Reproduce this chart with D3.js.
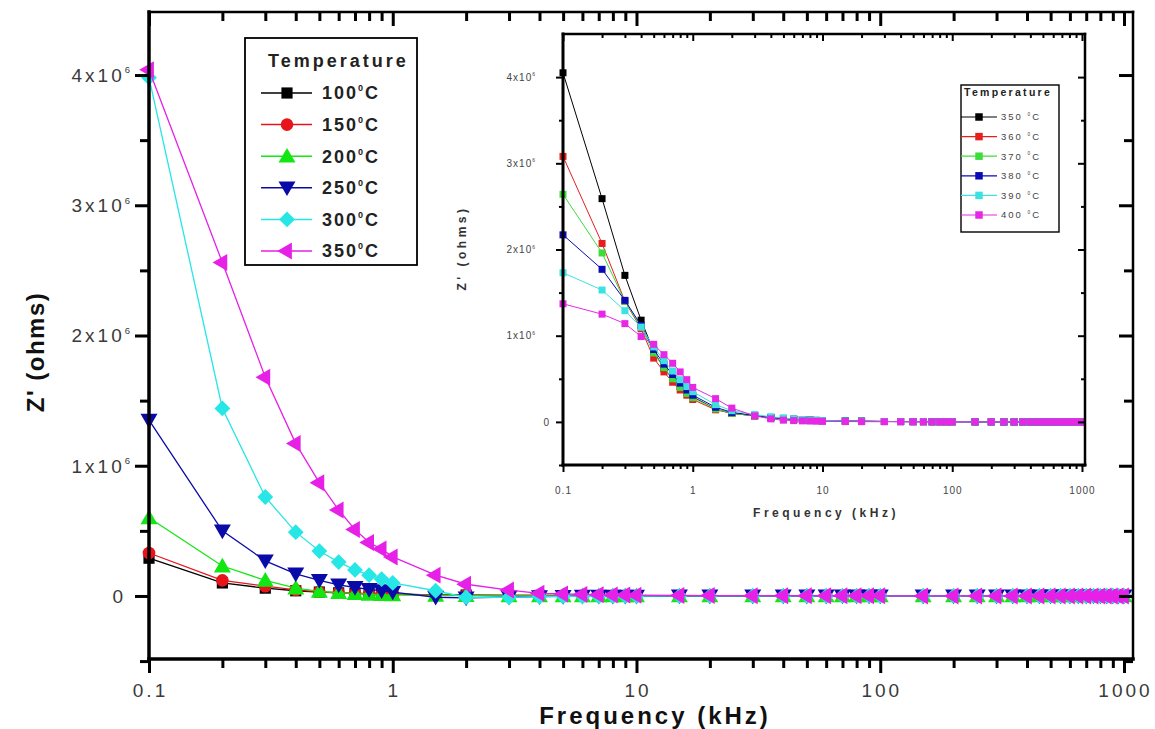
<!DOCTYPE html>
<html>
<head>
<meta charset="utf-8">
<script src="https://cdn.jsdelivr.net/npm/d3@7"></script>
<style>
  body { margin: 0; background: #fff; }
  svg { display: block; }
  text { font-family: "Liberation Sans", Arial, sans-serif; }
</style>
</head>
<body>
<svg id="chart" width="1155" height="729"></svg>
<script>
// ---- data -------------------------------------------------------------
// measurement frequencies (kHz), shared by every curve
const frequencyKHz = [0.1, 0.2, 0.3, 0.4, 0.5, 0.6, 0.7, 0.8, 0.9, 1,
  1.5, 2, 3, 4, 5, 6, 7, 8, 9, 10,
  15, 20, 30, 40, 50, 60, 70, 80, 90, 100,
  150, 200, 250, 300, 350, 400, 450, 500, 550, 600, 650, 700, 750, 800, 850, 900, 950, 1000];

// Z' in units of 10^6 ohms, main panel (100-350 °C)
const mainTemperatures = ["100", "150", "200", "250", "300", "350"];
const z100 = [0.29, 0.10, 0.06, 0.04, 0.03, 0.024, 0.02, 0.017, 0.015, 0.013,
  0.009, 0.007, 0.005, 0.004, 0.003, 0.003, 0.002, 0.002, 0.002, 0.002,
  0.001, 0.001, 0.001, 0.001, 0.001, 0.001, 0.001, 0.001, 0.001, 0.001,
  0, 0, 0, 0, 0, 0, 0, 0, 0, 0, 0, 0, 0, 0, 0, 0, 0, 0];
const z150 = [0.33, 0.12, 0.075, 0.046, 0.032, 0.025, 0.02, 0.017, 0.015, 0.013,
  0.009, 0.007, 0.005, 0.004, 0.003, 0.003, 0.002, 0.002, 0.002, 0.002,
  0.001, 0.001, 0.001, 0.001, 0.001, 0.001, 0.001, 0.001, 0.001, 0.001,
  0, 0, 0, 0, 0, 0, 0, 0, 0, 0, 0, 0, 0, 0, 0, 0, 0, 0];
const z200 = [0.60, 0.23, 0.12, 0.06, 0.035, 0.025, 0.018, 0.013, 0.01, 0.008,
  0.004, 0.002, 0.001, 0.001, 0.001, 0.001, 0.001, 0.001, 0.001, 0.001,
  0, 0, 0, 0, 0, 0, 0, 0, 0, 0,
  0, 0, 0, 0, 0, 0, 0, 0, 0, 0, 0, 0, 0, 0, 0, 0, 0, 0];
const z250 = [1.35, 0.50, 0.27, 0.17, 0.12, 0.085, 0.065, 0.05, 0.04, 0.03,
  -0.01, -0.015, -0.008, -0.005, -0.003, -0.002, -0.002, -0.001, -0.001, -0.001,
  0, 0, 0, 0, 0, 0, 0, 0, 0, 0,
  0, 0, 0, 0, 0, 0, 0, 0, 0, 0, 0, 0, 0, 0, 0, 0, 0, 0];
const z300 = [3.98, 1.44, 0.76, 0.49, 0.345, 0.26, 0.20, 0.16, 0.13, 0.10,
  0.04, -0.01, -0.01, -0.005, -0.003, -0.002, -0.002, -0.001, -0.001, -0.001,
  0, 0, 0, 0, 0, 0, 0, 0, 0, 0,
  0, 0, 0, 0, 0, 0, 0, 0, 0, 0, 0, 0, 0, 0, 0, 0, 0, 0];
const z350 = [4.04, 2.56, 1.68, 1.17, 0.87, 0.66, 0.51, 0.41, 0.36, 0.30,
  0.16, 0.09, 0.045, 0.02, 0.015, 0.012, 0.01, 0.008, 0.007, 0.006,
  0.004, 0.003, 0.002, 0.002, 0.002, 0.001, 0.001, 0.001, 0.001, 0.001,
  0, 0, 0, 0, 0, 0, 0, 0, 0, 0, 0, 0, 0, 0, 0, 0, 0, 0];

// Z' in units of 10^6 ohms, inset panel (350-400 °C)
const insetTemperatures = ["350", "360", "370", "380", "390", "400"];
const zi350 = [4.05, 2.59, 1.70, 1.18, 0.82, 0.62, 0.50, 0.41, 0.34, 0.29,
  0.15, 0.10, 0.07, 0.05, 0.04, 0.03, 0.025, 0.02, 0.017, 0.015,
  0.01, 0.008, 0.005, 0.004, 0.003, 0.003, 0.002, 0.002, 0.002, 0.002,
  0.001, 0.001, 0, 0, 0, 0, 0, 0, 0, 0, 0, 0, 0, 0, 0, 0, 0, 0];
const zi360 = [3.08, 2.07, 1.40, 1.08, 0.74, 0.58, 0.46, 0.37, 0.31, 0.26,
  0.14, 0.10, 0.07, 0.05, 0.04, 0.03, 0.025, 0.02, 0.017, 0.015,
  0.01, 0.008, 0.005, 0.004, 0.003, 0.003, 0.002, 0.002, 0.002, 0.002,
  0.001, 0.001, 0, 0, 0, 0, 0, 0, 0, 0, 0, 0, 0, 0, 0, 0, 0, 0];
const zi370 = [2.64, 1.96, 1.40, 1.10, 0.80, 0.63, 0.50, 0.40, 0.33, 0.28,
  0.15, 0.10, 0.07, 0.05, 0.04, 0.03, 0.025, 0.02, 0.017, 0.015,
  0.01, 0.008, 0.005, 0.004, 0.003, 0.003, 0.002, 0.002, 0.002, 0.002,
  0.001, 0.001, 0, 0, 0, 0, 0, 0, 0, 0, 0, 0, 0, 0, 0, 0, 0, 0];
const zi380 = [2.17, 1.77, 1.41, 1.12, 0.84, 0.67, 0.55, 0.45, 0.37, 0.31,
  0.17, 0.11, 0.075, 0.05, 0.04, 0.03, 0.025, 0.02, 0.017, 0.015,
  0.01, 0.008, 0.005, 0.004, 0.003, 0.003, 0.002, 0.002, 0.002, 0.002,
  0.001, 0.001, 0, 0, 0, 0, 0, 0, 0, 0, 0, 0, 0, 0, 0, 0, 0, 0];
const zi390 = [1.73, 1.53, 1.29, 1.10, 0.87, 0.71, 0.59, 0.49, 0.41, 0.35,
  0.20, 0.13, 0.085, 0.06, 0.045, 0.035, 0.028, 0.022, 0.018, 0.015,
  0.01, 0.008, 0.005, 0.004, 0.003, 0.003, 0.002, 0.002, 0.002, 0.002,
  0.001, 0.001, 0, 0, 0, 0, 0, 0, 0, 0, 0, 0, 0, 0, 0, 0, 0, 0];
const zi400 = [1.37, 1.25, 1.14, 0.99, 0.90, 0.78, 0.68, 0.58, 0.49, 0.40,
  0.27, 0.16, 0.07, 0.035, 0.02, 0.015, 0.012, 0.01, 0.008, 0.006,
  0.004, 0.003, 0.002, 0.002, 0.002, 0.001, 0.001, 0.001, 0.001, 0.001,
  0.001, 0.001, 0, 0, 0, 0, 0, 0, 0, 0, 0, 0, 0, 0, 0, 0, 0, 0];

// axis tick values
const xMajorTicks = [0.1, 1, 10, 100, 1000];
const yMajorTicks = [0, 1, 2, 3, 4];
const yMinorTicks = [-0.5, 0.5, 1.5, 2.5, 3.5];

// ---- styles -----------------------------------------------------------
const mainColors = ["#000000", "#e8141c", "#14e614", "#0a0aa8", "#26e6e6", "#e620e6"];
const mainSymbols = ["square", "circle", "triangleUp", "triangleDown", "diamond", "triangleLeft"];
const insetColors = ["#000000", "#e61e1e", "#3cdc3c", "#0a0ab4", "#3ce1e1", "#e628e6"];

const svg = d3.select("#chart");
svg.append("rect").attr("width", 1155).attr("height", 729).attr("fill", "#fff");

// minor log ticks: 2..9 in every decade below the top value
const xMinorTicks = [];
for (let d = 0.1; d < 1000; d *= 10) {
  for (let k = 2; k <= 9; k++) xMinorTicks.push(+(d * k).toPrecision(3));
}

function markerShape(kind, size) {
  const sym = {
    square: d3.symbolSquare, diamond: d3.symbolSquare, circle: d3.symbolCircle,
    triangleUp: d3.symbolTriangle, triangleDown: d3.symbolTriangle, triangleLeft: d3.symbolTriangle
  }[kind];
  const rot = { diamond: 45, triangleDown: 180, triangleLeft: -90 }[kind] || 0;
  const dy = { triangleUp: 1.5, triangleDown: -1.5 }[kind] || 0;
  return { d: d3.symbol(sym, size)(), rot, dy };
}

// text with a small raised part; offsets in pixels
function supText(sel, base, sup, tail, baseSize) {
  const supSize = baseSize * 0.5;
  const rise = baseSize * 0.45;
  sel.append("tspan").text(base);
  sel.append("tspan").attr("font-size", supSize).attr("dy", -rise).text(sup);
  if (tail) sel.append("tspan").attr("dy", rise).text(tail);
}

function drawPanel(cfg) {
  const g = svg.append("g");
  if (cfg.backdrop) {
    const b = cfg.backdrop;
    g.append("rect").attr("x", b[0]).attr("y", b[1]).attr("width", b[2]).attr("height", b[3]).attr("fill", "#fff");
  }
  const x = d3.scaleLog().domain(cfg.xDomain).range(cfg.xRange);
  const y = d3.scaleLinear().domain(cfg.yDomain).range(cfg.yRange);
  const [xl, xr] = cfg.xRange;
  const [yb, yt] = cfg.yRange;

  // series: line first, then its markers
  cfg.series.forEach(s => {
    const pts = frequencyKHz.map((f, j) => ({ f, v: s.values[j] }));
    const line = d3.line().x(d => x(d.f)).y(d => y(d.v));
    g.append("path").attr("d", line(pts)).attr("fill", "none")
      .attr("stroke", s.color).attr("stroke-width", cfg.lineWidth);
    const m = markerShape(s.symbol, cfg.markerSize);
    g.append("g").selectAll("path").data(pts).join("path")
      .attr("d", m.d).attr("fill", s.color)
      .attr("transform", d => `translate(${x(d.f)},${y(d.v) + m.dy}) rotate(${m.rot})`);
  });

  // ticks (bottom/left outward, top/right inward)
  const t = cfg.ticks;
  const addTicks = (axisFn, scale, values, size, tx, ty) => {
    const a = g.append("g").attr("transform", `translate(${tx},${ty})`)
      .call(axisFn(scale).tickValues(values).tickSize(size).tickFormat(""));
    a.select(".domain").remove();
    a.selectAll("line").attr("stroke", "#000").attr("stroke-width", t.width);
  };
  addTicks(d3.axisBottom, x, xMajorTicks, t.major, 0, yb);
  addTicks(d3.axisBottom, x, xMinorTicks, t.minor, 0, yb);
  addTicks(d3.axisTop, x, xMajorTicks, -t.major, 0, yt);
  addTicks(d3.axisTop, x, xMinorTicks, -t.minor, 0, yt);
  addTicks(d3.axisLeft, y, yMajorTicks, t.major, xl, 0);
  addTicks(d3.axisLeft, y, yMinorTicks, t.minor, xl, 0);
  addTicks(d3.axisRight, y, yMajorTicks, -t.major, xr, 0);
  addTicks(d3.axisRight, y, yMinorTicks, -t.minor, xr, 0);

  // frame
  const fr = cfg.frame;
  const edge = (x1, y1, x2, y2, w) => g.append("line").attr("x1", x1).attr("y1", y1)
    .attr("x2", x2).attr("y2", y2).attr("stroke", "#000").attr("stroke-width", w).attr("stroke-linecap", "square");
  edge(xl, yt, xr, yt, fr.thin);
  edge(xr, yt, xr, yb, fr.thin);
  edge(xl, yt, xl, yb, fr.thick);
  edge(xl, yb, xr, yb, fr.thick);

  // tick labels
  const L = cfg.labels;
  xMajorTicks.forEach(v => {
    g.append("text").attr("x", x(v) + L.spacing / 2).attr("y", L.xBaseline)
      .attr("text-anchor", "middle").attr("font-size", L.size).attr("letter-spacing", L.spacing)
      .attr("fill", L.color).text(v < 1 ? "0.1" : String(v));
  });
  yMajorTicks.forEach(v => {
    const tx = g.append("text").attr("y", y(v) + L.size * 0.36)
      .attr("font-size", L.size).attr("letter-spacing", L.spacing).attr("fill", L.color)
      .attr("text-anchor", "end");
    if (v === 0) {
      tx.attr("x", L.zeroRight).text("0");
    } else {
      tx.attr("x", L.yRight);
      supText(tx, `${v}x10`, "6", null, L.size);
    }
  });

  // axis titles
  const T = cfg.titles;
  g.append("text").attr("x", T.xPos[0]).attr("y", T.xPos[1]).attr("text-anchor", "middle")
    .attr("font-size", T.size).attr("font-weight", "bold").attr("letter-spacing", T.xSpacing)
    .attr("fill", T.color).text("Frequency (kHz)");
  g.append("text").attr("transform", `translate(${T.yPos[0]},${T.yPos[1]}) rotate(-90)`)
    .attr("text-anchor", "middle").attr("font-size", T.size).attr("font-weight", "bold")
    .attr("letter-spacing", T.ySpacing).attr("fill", T.color).text("Z' (ohms)");

  // legend
  const G = cfg.legend;
  g.append("rect").attr("x", G.box[0]).attr("y", G.box[1]).attr("width", G.box[2]).attr("height", G.box[3])
    .attr("fill", "#fff").attr("stroke", "#000").attr("stroke-width", G.boxStroke);
  g.append("text").attr("x", G.titlePos[0]).attr("y", G.titlePos[1]).attr("font-size", G.titleSize)
    .attr("font-weight", "bold").attr("letter-spacing", G.titleSpacing).attr("fill", G.titleColor).text("Temperature");
  cfg.series.forEach((s, i) => {
    const cy = G.firstY + i * G.step;
    g.append("line").attr("x1", G.lineX[0]).attr("x2", G.lineX[1]).attr("y1", cy).attr("y2", cy)
      .attr("stroke", s.color).attr("stroke-width", G.lineWidth);
    const m = markerShape(s.symbol, G.markerSize);
    g.append("path").attr("d", m.d).attr("fill", s.color)
      .attr("transform", `translate(${G.markerX},${cy + m.dy}) rotate(${m.rot})`);
    const tx = g.append("text").attr("x", G.textX).attr("y", cy + G.textSize * 0.36)
      .attr("font-size", G.textSize).attr("font-weight", G.textWeight)
      .attr("letter-spacing", G.textSpacing).attr("fill", G.textColor);
    supText(tx, s.name + G.gap, "0", "C", G.textSize);
  });
}

// main panel
drawPanel({
  xDomain: [0.1, 1089], xRange: [149, 1133],
  yDomain: [-0.484, 4.484], yRange: [659, 12],
  lineWidth: 1.3, markerSize: 125,
  ticks: { major: 14, minor: 9, width: 3 },
  frame: { thick: 3.5, thin: 2.5 },
  labels: { size: 19, spacing: 3, color: "#3a3a3a", xBaseline: 697, yRight: 133, zeroRight: 126 },
  titles: { size: 24, color: "#111", xPos: [655, 724], xSpacing: 3, yPos: [44, 352], ySpacing: 1.5 },
  legend: {
    box: [245, 38, 172, 227], boxStroke: 1.8,
    titlePos: [268, 67], titleSize: 18, titleSpacing: 3, titleColor: "#222",
    firstY: 93, step: 31.6, lineX: [261, 312], lineWidth: 1.5, markerX: 287, markerSize: 125,
    textX: 322, textSize: 18, textWeight: "bold", textSpacing: 2, textColor: "#222", gap: ""
  },
  series: mainTemperatures.map((name, i) => ({
    name, color: mainColors[i], symbol: mainSymbols[i],
    values: [z100, z150, z200, z250, z300, z350][i]
  }))
});

// inset panel
drawPanel({
  backdrop: [440, 28, 652, 500],
  xDomain: [0.1, 1055], xRange: [563, 1085],
  yDomain: [-0.5, 4.5], yRange: [465, 34],
  lineWidth: 1, markerSize: 49,
  ticks: { major: 7, minor: 4, width: 2 },
  frame: { thick: 3, thin: 2.5 },
  labels: { size: 10, spacing: 1, color: "#444", xBaseline: 494, yRight: 536, zeroRight: 550 },
  titles: { size: 12, color: "#333", xPos: [826, 517], xSpacing: 3.5, yPos: [466, 248], ySpacing: 3.5 },
  legend: {
    box: [961, 85, 98, 147], boxStroke: 1.4,
    titlePos: [964, 96], titleSize: 10.5, titleSpacing: 2.3, titleColor: "#222",
    firstY: 117, step: 19.6, lineX: [961, 997], lineWidth: 1.2, markerX: 979, markerSize: 56,
    textX: 1001, textSize: 9.5, textWeight: "normal", textSpacing: 2, textColor: "#444", gap: " "
  },
  series: insetTemperatures.map((name, i) => ({
    name, color: insetColors[i], symbol: "square",
    values: [zi350, zi360, zi370, zi380, zi390, zi400][i]
  }))
});
</script>
</body>
</html>
